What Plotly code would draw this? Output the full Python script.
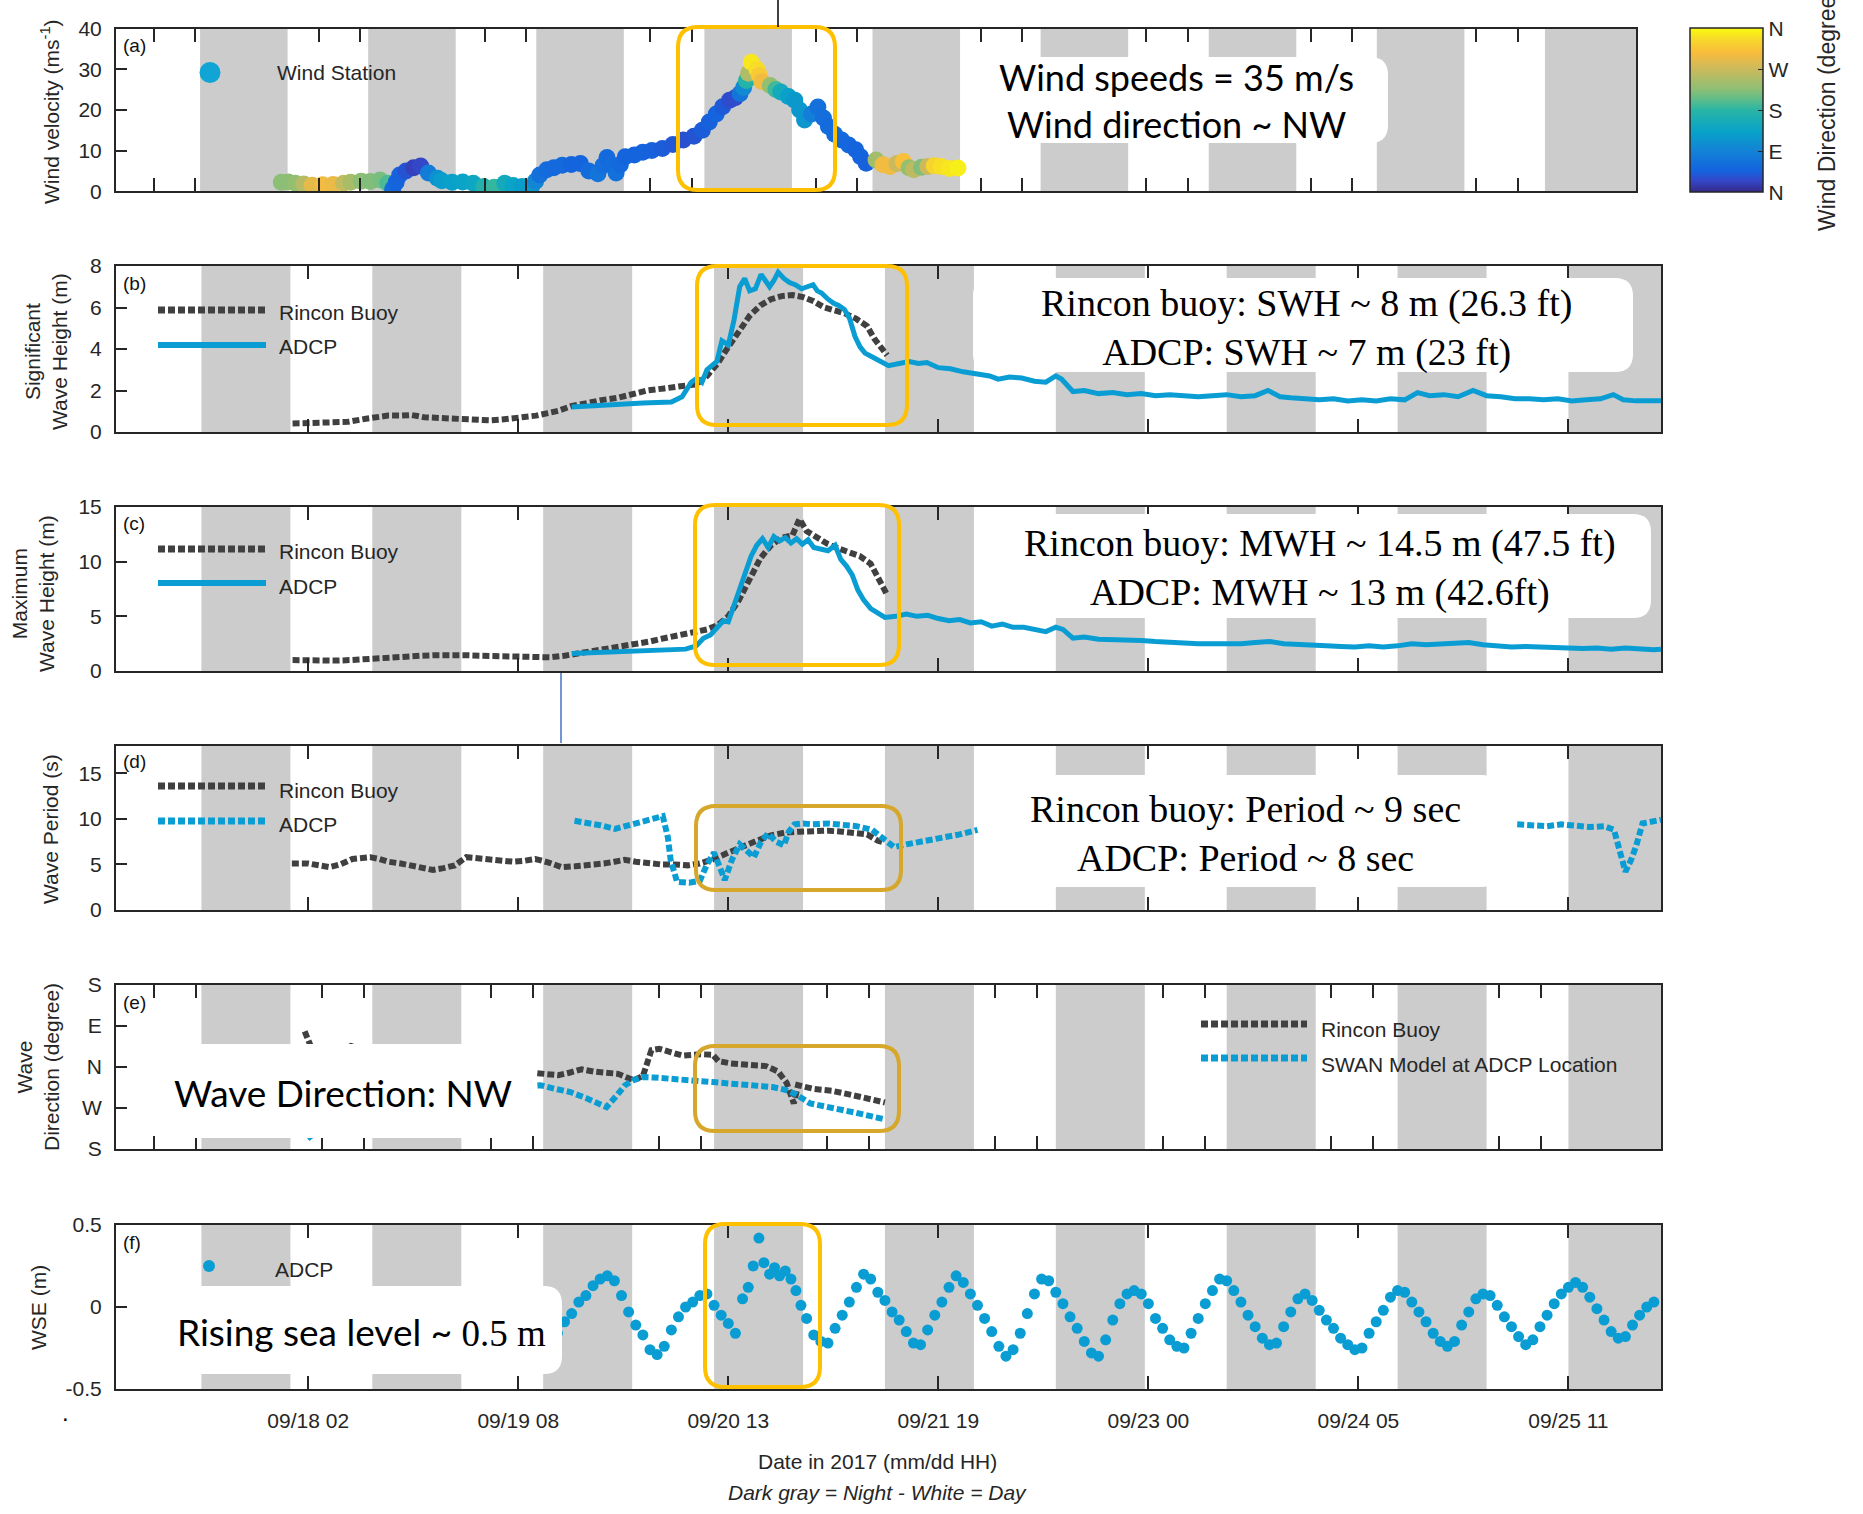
import numpy as np
import pandas as pd
import plotly.graph_objects as go

# ---------------------------------------------------------------- data
# all times are hours counted from T0
T0 = "2017-09-16 23:00"
X_RANGE = ["2017-09-16 23:00", "2017-09-26 00:00"]

night_start = ["2017-09-17 11:00", "2017-09-18 11:00", "2017-09-19 11:00",
               "2017-09-20 11:00", "2017-09-21 11:00", "2017-09-22 11:00",
               "2017-09-23 11:00", "2017-09-24 11:00", "2017-09-25 11:00"]
night_end = ["2017-09-17 23:30", "2017-09-18 23:30", "2017-09-19 23:30",
             "2017-09-20 23:30", "2017-09-21 23:30", "2017-09-22 23:30",
             "2017-09-23 23:30", "2017-09-24 23:30", "2017-09-26 00:00"]

main_tick_times = ["2017-09-18 02:00", "2017-09-19 07:30", "2017-09-20 13:00",
                   "2017-09-21 18:30", "2017-09-23 00:00", "2017-09-24 05:30",
                   "2017-09-25 11:00"]
main_tick_text = ["09/18 02", "09/19 08", "09/20 13", "09/21 19",
                  "09/23 00", "09/24 05", "09/25 11"]
pair_tick_hours = [5.4, 11.3, 29.0, 34.9, 52.7, 58.6, 76.3, 82.2, 99.9, 105.8,
                   123.5, 129.4, 147.1, 153.0, 170.6, 176.5, 194.2, 200.1]

# (hour, wind speed m/s, wind direction deg: 0=N 90=E 180=S 270=W)
wind_obs = [
    (23.6, 2.2, 225), (24.6, 2.3, 225), (25.6, 2.0, 230), (26.8, 1.8, 255),
    (28.0, 1.5, 290), (29.5, 1.6, 300), (31.0, 1.7, 295), (32.5, 2.0, 265),
    (33.5, 2.2, 245), (35.0, 2.5, 225), (36.3, 2.4, 220), (37.7, 2.8, 215),
    (38.8, 2.0, 195), (39.5, 0.5, 60), (40.0, 2.2, 50), (40.5, 4.0, 45),
    (41.4, 5.0, 35), (42.5, 5.8, 20), (43.5, 6.2, 25), (44.6, 4.5, 80),
    (45.9, 3.2, 110), (46.5, 2.6, 125), (48.0, 2.2, 130), (49.5, 2.3, 135),
    (51.0, 2.0, 140), (52.5, 1.2, 170), (54.0, 1.0, 185), (55.5, 2.0, 150),
    (56.7, 1.4, 135), (58.0, 1.2, 125), (59.3, 1.0, 120), (59.9, 2.5, 95),
    (60.5, 4.0, 65), (61.5, 5.3, 60), (62.5, 5.8, 55), (63.7, 6.4, 55),
    (65.0, 6.6, 50), (66.3, 6.8, 50), (67.5, 5.0, 60), (68.8, 4.3, 70),
    (69.5, 6.3, 62), (70.1, 8.3, 55), (70.8, 6.4, 60), (71.4, 4.5, 65),
    (72.0, 6.5, 55), (72.7, 8.5, 50), (74.0, 8.9, 50), (75.2, 9.6, 48),
    (76.5, 10.0, 45), (78.0, 10.5, 42), (79.5, 11.5, 38), (81.0, 12.6, 32),
    (82.5, 13.5, 35), (83.7, 15.0, 42), (84.7, 17.0, 45), (85.7, 19.0, 48),
    (86.6, 20.8, 40), (87.6, 22.4, 30), (88.4, 23.0, 28), (89.1, 24.0, 70),
    (89.6, 25.5, 100), (90.0, 27.2, 175), (90.3, 29.0, 250), (90.7, 31.7, 345),
    (91.5, 30.0, 338), (91.85, 28.5, 320), (92.2, 27.0, 300), (93.4, 26.0, 230),
    (94.2, 25.0, 190), (94.9, 24.4, 150), (96.0, 23.3, 130), (96.9, 22.4, 120),
    (97.6, 20.0, 118), (98.3, 17.5, 115), (99.3, 19.0, 85), (100.2, 20.7, 65),
    (101.0, 18.0, 62), (101.7, 15.9, 60), (102.6, 14.0, 58), (103.6, 12.6, 55),
    (104.6, 11.4, 52), (105.6, 10.2, 50), (106.3, 8.5, 48), (107.1, 6.9, 45),
    (108.5, 7.7, 240), (109.5, 6.5, 300), (110.5, 6.1, 300), (111.5, 6.8, 270),
    (112.4, 7.3, 310), (113.2, 5.8, 230), (113.9, 5.3, 260), (115.0, 5.9, 220),
    (115.9, 6.1, 270), (116.8, 6.3, 330), (117.8, 6.1, 340), (119.0, 5.6, 345),
    (120.2, 5.7, 350),
]

# significant wave height (m)
swh_buoy = [
    (24.8, 0.41), (27, 0.45), (28.8, 0.49), (30.5, 0.5), (32.6, 0.49), (35.1, 0.64),
    (36.5, 0.7), (38.2, 0.79), (40.1, 0.79), (41.5, 0.82), (43.3, 0.71), (44.8, 0.68),
    (46.4, 0.67), (48, 0.62), (49.6, 0.59), (51, 0.6), (52.7, 0.56), (54.2, 0.6),
    (55.8, 0.64), (57.5, 0.7), (59, 0.79), (60.5, 0.9), (62.1, 1.02), (63.9, 1.24),
    (66, 1.4), (68.4, 1.55), (70.5, 1.65), (72.5, 1.8), (74.6, 2.0), (77, 2.1),
    (79.6, 2.2), (81.5, 2.3), (83, 2.7), (84.5, 3.3), (86, 4.1), (87.5, 4.9),
    (89, 5.6), (90.5, 6.1), (92, 6.4), (93.5, 6.55), (95, 6.6), (96.5, 6.5),
    (98, 6.3), (99.5, 6.0), (101, 5.85), (102.5, 5.7), (104, 5.45), (105.5, 5.1),
    (106.5, 4.5), (107.5, 4.1), (108.3, 3.7),
]
swh_adcp = [
    (64, 1.2), (66, 1.25), (68, 1.3), (70, 1.35), (72, 1.4), (74, 1.4), (76, 1.42),
    (78, 1.45), (79.5, 1.7), (80.8, 2.4), (81.6, 2.6), (82.3, 2.4), (83, 3.0),
    (83.6, 3.2), (84.4, 3.4), (85.1, 4.4), (86, 4.2), (86.8, 5.4), (87.6, 7.0),
    (88.3, 7.4), (89, 6.8), (89.8, 6.9), (90.6, 7.6), (91.2, 7.3), (91.8, 7.0),
    (92.4, 7.3), (93, 7.7), (93.8, 7.4), (94.6, 7.2), (95.4, 7.1), (96.3, 6.9),
    (97.1, 7.0), (97.9, 7.1), (98.5, 6.8), (99.1, 6.7), (100, 6.4), (100.8, 6.2),
    (101.5, 6.1), (102.3, 5.9), (103, 5.5), (103.8, 4.6), (104.5, 4.1), (105.2, 3.8),
    (106.3, 3.6), (107.5, 3.4), (108.5, 3.2), (110, 3.3), (111.4, 3.4), (112.7, 3.3),
    (113.9, 3.35), (115.5, 3.1), (117.2, 3.05), (119, 2.9), (121.4, 2.75),
    (122.7, 2.7), (123.9, 2.55), (125.5, 2.65), (127.2, 2.6), (129, 2.45),
    (130.6, 2.4), (132, 2.7), (132.8, 2.55), (134.4, 1.95), (136, 2.0), (138, 1.85),
    (140, 1.9), (142, 1.8), (144, 1.85), (146, 1.75), (148, 1.8), (150, 1.75),
    (152, 1.7), (154, 1.75), (156, 1.8), (158, 1.7), (160, 1.75), (161.8, 2.0),
    (163.5, 1.7), (165, 1.65), (167, 1.6), (169, 1.55), (171, 1.6), (173, 1.5),
    (175, 1.55), (177, 1.5), (179, 1.6), (181, 1.55), (182.8, 1.9), (184.5, 1.75),
    (186.5, 1.8), (188.5, 1.7), (190.6, 2.0), (192.5, 1.75), (194.5, 1.7),
    (196.5, 1.6), (198.5, 1.6), (200.5, 1.55), (202.5, 1.6), (204.5, 1.5),
    (206.5, 1.55), (208.5, 1.6), (210.3, 1.8), (211.7, 1.55), (213.5, 1.5),
    (215.3, 1.5), (217, 1.5),
]

# maximum wave height (m)
mwh_buoy = [
    (24.8, 1.0), (27, 0.95), (29, 0.9), (31, 0.95), (33, 1.0), (35, 1.1), (37, 1.2),
    (39, 1.3), (41, 1.35), (43, 1.4), (45, 1.45), (47, 1.5), (49, 1.45), (51, 1.4),
    (53, 1.35), (55, 1.3), (57, 1.25), (59, 1.2), (61, 1.25), (63, 1.4), (65, 1.6),
    (67, 1.8), (69, 2.0), (71, 2.2), (73, 2.5), (75, 2.7), (77, 3.0), (79, 3.3),
    (81, 3.6), (83, 3.8), (84.5, 4.2), (86, 5.0), (87.5, 6.5), (89, 8.5),
    (90.5, 10.3), (92, 11.5), (93.5, 12.2), (95, 12.4), (96, 13.9), (97, 12.8),
    (98.5, 12.2), (100, 11.6), (101.5, 11.2), (103, 10.9), (104.5, 10.5),
    (106, 9.8), (107, 8.6), (108.2, 7.1),
]
mwh_adcp = [
    (64, 1.6), (66, 1.65), (68, 1.7), (70, 1.75), (72, 1.8), (74, 1.85), (76, 1.9),
    (78, 1.95), (80, 2.0), (81.5, 2.3), (82.5, 3.0), (83.5, 3.3), (84.5, 4.0),
    (85.3, 4.6), (86, 4.5), (86.8, 6.0), (87.6, 7.5), (88.4, 9.0), (89.2, 10.5),
    (90, 11.5), (90.8, 12.1), (91.6, 11.3), (92.4, 12.3), (93.2, 11.9), (94, 12.2),
    (94.8, 11.7), (95.6, 12.1), (96.4, 11.6), (97.2, 12.0), (98, 11.3), (99, 11.1),
    (100, 11.0), (101, 11.5), (101.8, 10.2), (102.6, 9.6), (103.4, 8.8),
    (104.2, 7.4), (105, 6.5), (106, 5.7), (107, 5.3), (108, 4.9), (109.5, 5.0),
    (111, 5.2), (112.5, 5.0), (114, 5.1), (115.5, 4.8), (117, 4.6), (118.5, 4.7),
    (120, 4.4), (121.5, 4.5), (123, 4.1), (124.5, 4.3), (126, 4.0), (127.5, 4.0),
    (129, 3.8), (130.6, 3.6), (132, 4.0), (133, 3.8), (134.4, 3.0), (136, 3.1),
    (138, 2.9), (140, 2.9), (142, 2.8), (144, 2.8), (146, 2.7), (148, 2.6),
    (150, 2.6), (152, 2.5), (154, 2.5), (156, 2.45), (158, 2.5), (160, 2.6),
    (162, 2.7), (164, 2.5), (166, 2.4), (168, 2.35), (170, 2.3), (172, 2.25),
    (174, 2.2), (176, 2.3), (178, 2.2), (180, 2.3), (182, 2.5), (184, 2.4),
    (186, 2.45), (188, 2.5), (190, 2.6), (192, 2.4), (194, 2.3), (196, 2.2),
    (198, 2.25), (200, 2.2), (202, 2.1), (204, 2.0), (206, 2.05), (208, 2.1),
    (210, 2.0), (212, 2.1), (214, 2.0), (216, 1.95), (217, 2.0),
]

# wave period (s)
period_buoy = [
    (24.7, 5.1), (27, 5.1), (30, 4.7), (31.5, 5.0), (33.2, 5.6), (35.7, 5.8),
    (37, 5.6), (38.2, 5.3), (40, 5.1), (41.4, 4.9), (43, 4.6), (44.5, 4.4),
    (46, 4.6), (47.6, 4.9), (49.2, 5.8), (51, 5.7), (52.6, 5.6), (54.2, 5.4),
    (55.8, 5.3), (57.3, 5.4), (58.9, 5.6), (60.8, 5.2), (62.6, 4.7), (64.5, 4.8),
    (66.4, 4.9), (68.5, 5.1), (70, 5.3), (71.4, 5.5), (73, 5.3), (74.6, 5.1),
    (76.5, 5.0), (78.5, 5.0), (80.3, 4.9), (82, 5.1), (84, 5.6), (86, 6.3),
    (88, 7.0), (90, 7.6), (92, 8.2), (94, 8.5), (96, 8.6), (98, 8.7), (100, 8.7),
    (102, 8.6), (104, 8.5), (105.5, 8.3), (107, 7.6), (108, 7.4),
]
period_adcp_early = [
    (64.4, 9.8), (66, 9.6), (68, 9.3), (70.1, 8.9), (72, 9.3), (74, 9.8),
    (75.3, 10.0), (76.8, 10.3), (77.5, 8.0), (77.9, 5.5), (78.8, 3.1), (80.5, 3.0),
    (82.0, 3.2), (83.0, 5.0), (84.0, 6.3), (85.0, 4.0), (85.5, 3.3), (86.5, 5.5),
    (87.6, 7.2), (88.6, 6.5), (89.6, 5.8), (90.6, 7.5), (91.6, 8.4), (92.7, 7.5),
    (93.8, 7.1), (94.5, 8.6), (95.3, 9.4), (96.5, 9.5), (97.8, 9.4), (100, 9.5),
    (102.2, 9.3), (104, 9.2), (106.2, 8.8), (107.8, 7.8), (109.3, 6.9), (111, 7.2),
    (113.4, 7.5), (116, 7.9), (118.5, 8.3), (121.0, 8.8),
]
period_adcp_late = [
    (196.8, 9.4), (199, 9.3), (201, 9.2), (203, 9.4), (205, 9.3), (207, 9.1),
    (209, 9.2), (210.4, 8.8), (211.2, 6.5), (212.0, 4.2), (212.8, 5.5),
    (213.5, 7.0), (214.4, 9.5), (216, 9.8), (217, 9.9),
]

# wave direction (deg, N=0, E=90, S=+-180, W=-90)
dir_buoy = [
    (26.5, 78), (27.0, 60), (27.5, 40), (30, 25), (33, 46), (36, 30), (40, 20),
    (45, 10), (50, 0), (55, -8), (59.8, -15), (62.1, -18), (63.8, -12),
    (65.4, -5), (67.1, -10), (68.8, -13), (70.5, -15), (72.7, -29), (74, -20),
    (75.2, 37), (76.3, 40), (78, 32), (79.6, 25), (82.1, 28), (83.8, 27),
    (84.6, 13), (86.3, 8), (88.8, 5), (91.3, 2), (93, -10), (94.2, -35),
    (95.2, -80), (95.8, -40), (98, -48), (100.5, -52), (103.8, -63),
    (106.3, -70), (108, -78),
]
dir_swan = [
    (26.9, -157), (27.5, -150), (30, -120), (35, -90), (40, -70), (45, -60),
    (50, -50), (55, -45), (59.6, -40), (61.7, -48), (63.8, -55), (66, -68),
    (68.9, -88), (70.2, -65), (71.5, -40), (72.8, -28), (74, -22), (75.5, -23),
    (77.8, -25), (80, -27), (82, -30), (83.8, -33), (86, -36), (88, -38),
    (90, -40), (92.2, -44), (94, -50), (95.5, -60), (97.5, -80), (100.5, -88),
    (103.8, -100), (106, -108), (108, -115),
]

# water surface elevation (m)
wse_adcp = [
    (60, -0.08), (61, -0.14), (62, -0.16), (63, -0.09), (64, -0.04), (65, 0.03),
    (66, 0.07), (67, 0.13), (68, 0.17), (69, 0.19), (70, 0.16), (71, 0.07),
    (72, -0.03), (73, -0.11), (74, -0.17), (75, -0.26), (76, -0.29), (77, -0.24),
    (78, -0.14), (79, -0.06), (80, 0.00), (81, 0.03), (82, 0.07), (83, 0.08),
    (84, 0.01), (85, -0.05), (86, -0.10), (87, -0.16), (88, 0.05), (88.8, 0.12),
    (89.5, 0.25), (90.3, 0.42), (91, 0.27), (91.8, 0.20), (92.5, 0.24),
    (93.2, 0.19), (94, 0.22), (94.8, 0.17), (95.5, 0.10), (96.2, 0.01),
    (97, -0.07), (98, -0.17), (99, -0.21), (100, -0.22), (101, -0.13),
    (102, -0.05), (103, 0.03), (104, 0.12), (105, 0.20), (106, 0.17), (107, 0.09),
    (108, 0.04), (109, -0.03), (110, -0.08), (111, -0.15), (112, -0.22),
    (113, -0.23), (114, -0.14), (115, -0.05), (116, 0.03), (117, 0.12),
    (118, 0.19), (119, 0.15), (120, 0.08), (121, 0.01), (122, -0.07),
    (123, -0.15), (124, -0.24), (125, -0.30), (126, -0.26), (127, -0.16),
    (128, -0.04), (129, 0.08), (130, 0.17), (131, 0.16), (132, 0.09), (133, 0.02),
    (134, -0.06), (135, -0.13), (136, -0.21), (137, -0.28), (138, -0.30),
    (139, -0.20), (140, -0.08), (141, 0.02), (142, 0.08), (143, 0.10), (144, 0.08),
    (145, 0.02), (146, -0.07), (147, -0.13), (148, -0.20), (149, -0.24),
    (150, -0.25), (151, -0.16), (152, -0.07), (153, 0.02), (154, 0.10),
    (155, 0.17), (156, 0.16), (157, 0.10), (158, 0.03), (159, -0.05),
    (160, -0.12), (161, -0.19), (162, -0.23), (163, -0.22), (164, -0.12),
    (165, -0.03), (166, 0.05), (167, 0.08), (168, 0.04), (169, -0.02),
    (170, -0.08), (171, -0.13), (172, -0.19), (173, -0.23), (174, -0.26),
    (175, -0.25), (176, -0.16), (177, -0.09), (178, -0.02), (179, 0.06),
    (180, 0.10), (181, 0.09), (182, 0.03), (183, -0.03), (184, -0.09),
    (185, -0.16), (186, -0.21), (187, -0.24), (188, -0.21), (189, -0.11),
    (190, -0.03), (191, 0.05), (192, 0.08), (193, 0.07), (194, 0.01),
    (195, -0.06), (196, -0.12), (197, -0.18), (198, -0.23), (199, -0.20),
    (200, -0.12), (201, -0.05), (202, 0.02), (203, 0.08), (204, 0.12),
    (205, 0.15), (206, 0.12), (207, 0.06), (208, -0.01), (209, -0.08),
    (210, -0.15), (211, -0.19), (212, -0.18), (213, -0.11), (214, -0.05),
    (215, 0.00), (216, 0.03),
]

# ---------------------------------------------------------------- style
W, H = 1863, 1514
SANS = "Liberation Sans, Arial, Helvetica, sans-serif"
CAL = "Lato, Carlito, Calibri, sans-serif"
SERIF = "Liberation Serif, Times New Roman, serif"
AX = "#262626"
BUOY = "#404040"
BLUE = "#0A9DD3"
NIGHT = "#CCCCCC"
GOLD = "#FFC000"
GOLD_DARK = "#D6A72A"
DASH = "7px,3px"

PARULA = [
    [0.00, "#352A87"], [0.07, "#3447C9"], [0.13, "#1463DE"], [0.25, "#1382D6"],
    [0.37, "#08A3C8"], [0.50, "#29B5A5"], [0.56, "#5BBC8C"], [0.63, "#90BF73"],
    [0.75, "#CBBA5C"], [0.85, "#F8BC3C"], [0.93, "#F7D92A"], [1.00, "#F9FB0E"],
]

t0 = pd.Timestamp(T0)


def to_time(hours):
    return t0 + pd.to_timedelta(np.asarray(hours, dtype=float), unit="h")


def tstr(ts):
    return [pd.Timestamp(v).strftime("%Y-%m-%d %H:%M:%S") for v in ts]


def unzip(pairs):
    a = np.array(pairs, dtype=float)
    return tstr(to_time(a[:, 0])), a[:, 1]


def px(x):
    return x / W


def py(y):
    return 1 - y / H


# panel frames in pixels: x0, x1, ytop, ybottom
PANELS = {
    1: (116, 1636, 28.5, 191.3),
    2: (116, 1661, 266, 432),
    3: (116, 1661, 507, 671),
    4: (116, 1661, 746, 910),
    5: (116, 1661, 985, 1149),
    6: (116, 1661, 1225, 1389),
}
YRANGE = {1: [0, 40], 2: [0, 8], 3: [0, 15], 4: [0, 18], 5: [-180, 180], 6: [-0.5, 0.5]}
YTICKS = {
    1: ([0, 10, 20, 30, 40], ["0", "10", "20", "30", "40"]),
    2: ([0, 2, 4, 6, 8], ["0", "2", "4", "6", "8"]),
    3: ([0, 5, 10, 15], ["0", "5", "10", "15"]),
    4: ([0, 5, 10, 15], ["0", "5", "10", "15"]),
    5: ([-180, -90, 0, 90, 180], ["S", "W", "N", "E", "S"]),
    6: ([-0.5, 0, 0.5], ["-0.5", "0", "0.5"]),
}

layout = dict(
    width=W, height=H, autosize=False,
    margin=dict(l=0, r=0, t=0, b=0, pad=0, autoexpand=False),
    paper_bgcolor="white", plot_bgcolor="white", showlegend=False,
    font=dict(family=SANS, size=21, color=AX),
)

for i in range(1, 7):
    sfx = "" if i == 1 else str(i)
    x0, x1, yt, yb = PANELS[i]
    xa = dict(
        domain=[px(x0), px(x1)], anchor="y" + sfx, type="date", range=X_RANGE,
        showline=True, linecolor=AX, linewidth=2, mirror="ticks",
        ticks="inside", ticklen=13, tickwidth=1.5, tickcolor=AX,
        showgrid=False, zeroline=False, tickmode="array", automargin=False,
    )
    if i in (1, 5):
        xa.update(tickvals=tstr(to_time(pair_tick_hours)), showticklabels=False)
    else:
        xa.update(tickvals=main_tick_times, ticktext=main_tick_text,
                  showticklabels=(i == 6),
                  tickfont=dict(family=SANS, size=21, color=AX),
                  ticklabelstandoff=12)
    ya = dict(
        domain=[py(yb), py(yt)], anchor="x" + sfx, range=YRANGE[i],
        showline=True, linecolor=AX, linewidth=2, mirror=True,
        ticks="inside", ticklen=11, tickwidth=1.5, tickcolor=AX,
        tickmode="array", tickvals=YTICKS[i][0], ticktext=YTICKS[i][1],
        tickfont=dict(family=SANS, size=21, color=AX), automargin=False,
        showgrid=False, zeroline=False, ticklabelstandoff=8,
    )
    layout["xaxis" + sfx] = xa
    layout["yaxis" + sfx] = ya

# ---------------------------------------------------------------- traces
traces = []
wa = np.array(wind_obs, dtype=float)
traces.append(go.Scatter(
    x=tstr(to_time(wa[:, 0])), y=wa[:, 1], xaxis="x", yaxis="y", mode="markers",
    marker=dict(size=17, color=wa[:, 2], colorscale=PARULA, cmin=0, cmax=360,
                line=dict(width=0), showscale=True,
                colorbar=dict(
                    x=px(1690), xanchor="left", y=py(110.2), yanchor="middle",
                    len=163.5 / H, lenmode="fraction", thickness=73,
                    thicknessmode="pixels", xpad=0, ypad=0,
                    outlinewidth=1.5, outlinecolor=AX,
                    tickmode="array", tickvals=[0, 90, 180, 270, 360],
                    ticktext=["N", "E", "S", "W", "N"], ticks="inside",
                    ticklen=5, tickcolor=AX,
                    tickfont=dict(family=SANS, size=21, color=AX))),
))


def line_trace(pairs, ax, color, width, dash=None):
    x, y = unzip(pairs)
    return go.Scatter(x=x, y=y, xaxis="x" + ax, yaxis="y" + ax, mode="lines",
                      line=dict(color=color, width=width, dash=dash or "solid"))


traces.append(line_trace(swh_buoy, "2", BUOY, 6, DASH))
traces.append(line_trace(swh_adcp, "2", BLUE, 5))
traces.append(line_trace(mwh_buoy, "3", BUOY, 6, DASH))
traces.append(line_trace(mwh_adcp, "3", BLUE, 5))
traces.append(line_trace(period_buoy, "4", BUOY, 6, DASH))
xe, ye = unzip(period_adcp_early)
xl, yl = unzip(period_adcp_late)
traces.append(go.Scatter(
    x=list(xe) + [xe[-1]] + list(xl), y=list(ye) + [None] + list(yl),
    xaxis="x4", yaxis="y4", mode="lines", connectgaps=False,
    line=dict(color=BLUE, width=6, dash=DASH)))
traces.append(line_trace(dir_buoy, "5", BUOY, 6, DASH))
traces.append(line_trace(dir_swan, "5", BLUE, 6, DASH))
xw, yw = unzip(wse_adcp)
traces.append(go.Scatter(x=xw, y=yw, xaxis="x6", yaxis="y6", mode="markers",
                         marker=dict(size=11, color=BLUE, line=dict(width=0))))

# ---------------------------------------------------------------- shapes
shapes = []
for i in range(1, 7):
    sfx = "" if i == 1 else str(i)
    for s, e in zip(night_start, night_end):
        shapes.append(dict(type="rect", xref="x" + sfx, yref="y" + sfx,
                           x0=s, x1=e, y0=YRANGE[i][0], y1=YRANGE[i][1],
                           fillcolor=NIGHT, line=dict(width=0), layer="below"))


def rrect(x0, y0, x1, y1, r):
    X = lambda v: f"{px(v):.5f}"
    Y = lambda v: f"{py(v):.5f}"
    return (f"M {X(x0 + r)},{Y(y0)} L {X(x1 - r)},{Y(y0)} "
            f"Q {X(x1)},{Y(y0)} {X(x1)},{Y(y0 + r)} L {X(x1)},{Y(y1 - r)} "
            f"Q {X(x1)},{Y(y1)} {X(x1 - r)},{Y(y1)} L {X(x0 + r)},{Y(y1)} "
            f"Q {X(x0)},{Y(y1)} {X(x0)},{Y(y1 - r)} L {X(x0)},{Y(y0 + r)} "
            f"Q {X(x0)},{Y(y0)} {X(x0 + r)},{Y(y0)} Z")


white_boxes = [(962, 57, 1388, 143), (973, 278, 1633, 372), (974, 514, 1651, 618),
               (1004, 775, 1499, 887), (148, 1044, 535, 1138), (143, 1286, 562, 1374)]
for b in white_boxes:
    shapes.append(dict(type="path", xref="paper", yref="paper", path=rrect(*b, 18),
                       fillcolor="white", line=dict(width=0), layer="above"))

gold_boxes = [((678, 27, 835, 190), GOLD), ((697, 266, 907, 425), GOLD),
              ((695, 505, 899, 665), GOLD), ((696, 806, 901, 890), GOLD_DARK),
              ((695, 1046, 899, 1131), GOLD_DARK), ((705, 1224, 820, 1387), GOLD)]
for b, c in gold_boxes:
    shapes.append(dict(type="path", xref="paper", yref="paper", path=rrect(*b, 20),
                       fillcolor="rgba(0,0,0,0)", line=dict(color=c, width=4),
                       layer="above"))


def leg_line(x0, x1, y, color, width, dash):
    shapes.append(dict(type="line", xref="paper", yref="paper", x0=px(x0), x1=px(x1),
                       y0=py(y), y1=py(y), line=dict(color=color, width=width, dash=dash),
                       layer="above"))


def leg_dot(cx, cy, r, color):
    shapes.append(dict(type="circle", xref="paper", yref="paper",
                       x0=px(cx - r), x1=px(cx + r), y0=py(cy + r), y1=py(cy - r),
                       fillcolor=color, line=dict(width=0), layer="above"))


leg_dot(210, 72.5, 10.5, "#10A5D5")
leg_line(158, 266, 310, BUOY, 7, DASH)
leg_line(158, 266, 345, BLUE, 6, "solid")
leg_line(158, 266, 549, BUOY, 7, DASH)
leg_line(158, 266, 583, BLUE, 6, "solid")
leg_line(158, 266, 786, BUOY, 7, DASH)
leg_line(158, 266, 821, BLUE, 7, DASH)
leg_line(1201, 1307, 1024, BUOY, 7, DASH)
leg_line(1201, 1307, 1058, BLUE, 7, DASH)
leg_dot(209, 1266, 6, BLUE)

# stray marks of the original composite
shapes.append(dict(type="line", xref="paper", yref="paper", x0=px(778), x1=px(778),
                   y0=py(0), y1=py(27), line=dict(color="black", width=1.5)))
shapes.append(dict(type="line", xref="paper", yref="paper", x0=px(561), x1=px(561),
                   y0=py(673), y1=py(743), line=dict(color="#4472C4", width=1.5)))

# ---------------------------------------------------------------- annotations
anns = []


def ann(text, x, y, size=21, family=SANS, color=AX, xanchor="center",
        yanchor="middle", angle=0):
    anns.append(dict(text=text, x=px(x), y=py(y), xref="paper", yref="paper",
                     showarrow=False, xanchor=xanchor, yanchor=yanchor,
                     textangle=angle, align="center",
                     font=dict(family=family, size=size, color=color)))


# boxed comments
ann("Wind speeds = 35 m/s<br>Wind direction ~ NW", 1176, 101, 36, CAL, "black")
ann("Rincon buoy: SWH ~ 8 m (26.3 ft)<br>ADCP: SWH ~ 7 m (23 ft)", 1306, 328, 38, SERIF, "black")
ann("Rincon buoy: MWH ~ 14.5 m (47.5 ft)<br>ADCP: MWH ~ 13 m (42.6ft)", 1320, 568, 38, SERIF, "black")
ann("Rincon buoy: Period ~ 9 sec<br>ADCP: Period ~ 8 sec", 1245, 833, 38, SERIF, "black")
ann("Wave Direction: NW", 343, 1092, 37, CAL, "black")
ann('Rising sea level ~ <span style="font-family:Liberation Serif, serif">0.5 m</span>',
    361, 1331, 37, CAL, "black")

# axis titles
ann("Wind velocity (ms<sup>-1</sup>)", 50, 112, 21, angle=-90)
ann("Significant<br>Wave Height (m)", 46, 352, 21, angle=-90)
ann("Maximum<br>Wave Height (m)", 33, 594, 21, angle=-90)
ann("Wave Period (s)", 50, 829, 21, angle=-90)
ann("Wave<br>Direction (degree)", 38, 1067, 21, angle=-90)
ann("WSE (m)", 38, 1308, 21, angle=-90)
ann("Wind Direction (degree)", 1827, 110, 23, angle=-90)
ann("Date in 2017 (mm/dd HH)", 877, 1461, 21)
ann("<i>Dark gray = Night - White = Day</i>", 877, 1492, 21)

# panel letters
for lab, y in zip(["(a)", "(b)", "(c)", "(d)", "(e)", "(f)"],
                  [46, 283, 523, 762, 1002, 1242]):
    ann(lab, 121, y, 19, color="#111111", xanchor="left")

# legend texts
ann("Wind Station", 275, 73, 21, xanchor="left")
ann("Rincon Buoy", 277, 312, 21, xanchor="left")
ann("ADCP", 277, 347, 21, xanchor="left")
ann("Rincon Buoy", 277, 551, 21, xanchor="left")
ann("ADCP", 277, 586, 21, xanchor="left")
ann("Rincon Buoy", 277, 790, 21, xanchor="left")
ann("ADCP", 277, 824, 21, xanchor="left")
ann("Rincon Buoy", 1319, 1029, 21, xanchor="left")
ann("SWAN Model at ADCP Location", 1319, 1064, 21, xanchor="left")
ann("ADCP", 273, 1269, 21, xanchor="left")
ann(".", 65, 1412, 24, color="black")

layout["shapes"] = shapes
layout["annotations"] = anns

fig = go.Figure(data=traces, layout=layout)
fig.write_html("out.html", config={"displayModeBar": False},
               post_script="document.body.style.margin='0';")
